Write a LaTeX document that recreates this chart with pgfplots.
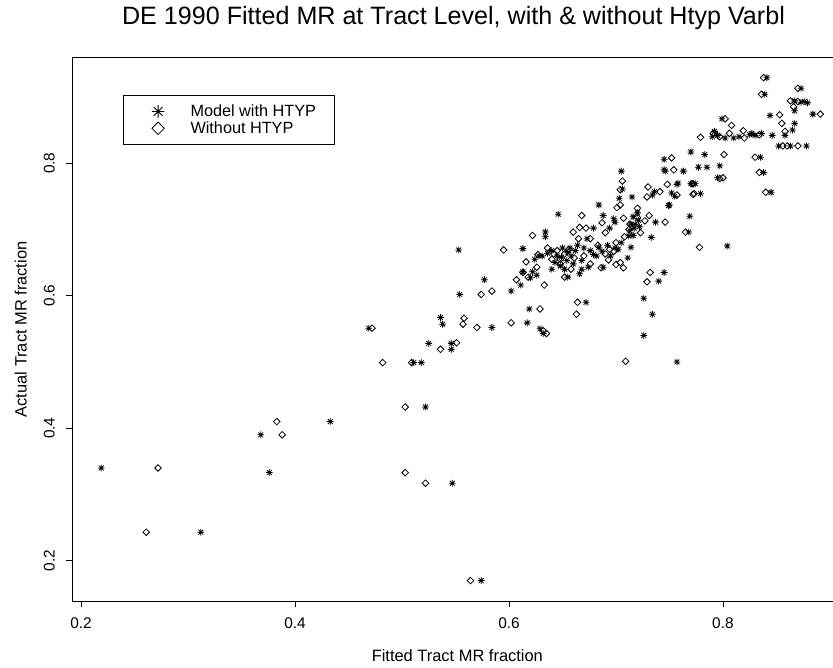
\documentclass[border=0pt]{standalone}
\usepackage{pgfplots}
\pgfplotsset{compat=1.18}
\usepackage{fontspec}
\setmainfont{Liberation Sans}

% S-Plus style eight-armed asterisk and square diamond
\pgfdeclareplotmark{aster8}{%
  \pgfpathmoveto{\pgfqpoint{0pt}{\pgfplotmarksize}}%
  \pgfpathlineto{\pgfqpoint{0pt}{-\pgfplotmarksize}}%
  \pgfpathmoveto{\pgfqpoint{\pgfplotmarksize}{0pt}}%
  \pgfpathlineto{\pgfqpoint{-\pgfplotmarksize}{0pt}}%
  \pgfpathmoveto{\pgfqpoint{0.707\pgfplotmarksize}{0.707\pgfplotmarksize}}%
  \pgfpathlineto{\pgfqpoint{-0.707\pgfplotmarksize}{-0.707\pgfplotmarksize}}%
  \pgfpathmoveto{\pgfqpoint{-0.707\pgfplotmarksize}{0.707\pgfplotmarksize}}%
  \pgfpathlineto{\pgfqpoint{0.707\pgfplotmarksize}{-0.707\pgfplotmarksize}}%
  \pgfusepathqstroke}
\pgfdeclareplotmark{sdiamond}{%
  \pgfpathmoveto{\pgfqpoint{0pt}{\pgfplotmarksize}}%
  \pgfpathlineto{\pgfqpoint{\pgfplotmarksize}{0pt}}%
  \pgfpathlineto{\pgfqpoint{0pt}{-\pgfplotmarksize}}%
  \pgfpathlineto{\pgfqpoint{-\pgfplotmarksize}{0pt}}%
  \pgfpathclose
  \pgfusepathqstroke}

\pgfplotstableread{
x y
0.219 0.340
0.312 0.243
0.368 0.390
0.376 0.333
0.433 0.410
0.522 0.432
0.547 0.317
0.574 0.170
0.469 0.551
0.511 0.499
0.518 0.499
0.525 0.528
0.546 0.528
0.546 0.519
0.536 0.567
0.538 0.557
0.553 0.669
0.554 0.602
0.577 0.624
0.584 0.552
0.602 0.607
0.617 0.559
0.619 0.580
0.611 0.616
0.613 0.671
0.629 0.550
0.632 0.543
0.628 0.660
0.634 0.696
0.634 0.689
0.672 0.590
0.646 0.723
0.726 0.596
0.734 0.572
0.726 0.540
0.757 0.500
0.740 0.622
0.745 0.635
0.804 0.675
0.768 0.696
0.769 0.720
0.733 0.688
0.714 0.673
0.711 0.657
0.705 0.788
0.746 0.788
0.763 0.788
0.706 0.761
0.703 0.747
0.715 0.749
0.736 0.757
0.757 0.768
0.770 0.769
0.755 0.750
0.684 0.737
0.750 0.737
0.688 0.721
0.698 0.716
0.699 0.711
0.720 0.725
0.716 0.719
0.721 0.714
0.714 0.708
0.717 0.702
0.713 0.698
0.716 0.691
0.737 0.711
0.679 0.702
0.694 0.702
0.673 0.686
0.657 0.672
0.670 0.672
0.684 0.673
0.687 0.667
0.699 0.672
0.702 0.670
0.649 0.658
0.654 0.653
0.668 0.653
0.682 0.660
0.668 0.640
0.674 0.643
0.688 0.643
0.655 0.628
0.666 0.633
0.631 0.660
0.624 0.655
0.613 0.636
0.622 0.636
0.626 0.631
0.620 0.627
0.640 0.668
0.645 0.660
0.650 0.672
0.655 0.665
0.643 0.650
0.648 0.645
0.636 0.664
0.658 0.660
0.662 0.668
0.676 0.668
0.692 0.676
0.705 0.680
0.712 0.690
0.718 0.708
0.722 0.704
0.660 0.648
0.664 0.676
0.679 0.662
0.695 0.660
0.652 0.640
0.640 0.640
0.745 0.806
0.745 0.790
0.752 0.755
0.758 0.770
0.749 0.736
0.734 0.752
0.790 0.840
0.795 0.842
0.802 0.838
0.810 0.838
0.815 0.840
0.825 0.843
0.830 0.842
0.836 0.845
0.846 0.842
0.858 0.842
0.865 0.850
0.867 0.860
0.799 0.867
0.792 0.848
0.770 0.817
0.783 0.813
0.777 0.794
0.785 0.794
0.797 0.796
0.835 0.809
0.838 0.786
0.845 0.756
0.779 0.754
0.774 0.769
0.795 0.778
0.841 0.929
0.839 0.904
0.873 0.913
0.867 0.894
0.873 0.892
0.876 0.893
0.879 0.891
0.867 0.879
0.884 0.874
0.844 0.872
0.852 0.826
0.863 0.826
0.878 0.826
0.827 0.845
}\withhtyp

\pgfplotstableread{
x y
0.272 0.340
0.261 0.243
0.383 0.410
0.388 0.390
0.503 0.432
0.503 0.333
0.522 0.317
0.564 0.170
0.472 0.551
0.482 0.499
0.509 0.499
0.536 0.519
0.551 0.529
0.557 0.557
0.558 0.566
0.574 0.602
0.584 0.607
0.570 0.552
0.595 0.669
0.602 0.559
0.629 0.580
0.607 0.624
0.616 0.651
0.632 0.547
0.635 0.543
0.622 0.691
0.633 0.616
0.663 0.572
0.664 0.590
0.709 0.501
0.706 0.773
0.704 0.760
0.730 0.764
0.741 0.757
0.748 0.768
0.772 0.769
0.772 0.753
0.729 0.749
0.704 0.737
0.701 0.733
0.668 0.721
0.707 0.717
0.713 0.708
0.723 0.695
0.727 0.713
0.731 0.721
0.746 0.711
0.765 0.696
0.660 0.696
0.666 0.703
0.672 0.702
0.687 0.710
0.665 0.686
0.676 0.686
0.708 0.689
0.778 0.673
0.694 0.670
0.698 0.667
0.661 0.657
0.648 0.648
0.693 0.654
0.700 0.647
0.686 0.642
0.707 0.642
0.652 0.628
0.732 0.635
0.729 0.621
0.704 0.650
0.627 0.662
0.613 0.635
0.618 0.628
0.636 0.672
0.645 0.668
0.652 0.663
0.640 0.655
0.642 0.663
0.656 0.670
0.670 0.660
0.683 0.676
0.690 0.695
0.712 0.700
0.720 0.718
0.700 0.680
0.658 0.640
0.676 0.648
0.720 0.732
0.690 0.663
0.626 0.643
0.648 0.655
0.838 0.929
0.836 0.904
0.870 0.913
0.863 0.894
0.870 0.893
0.891 0.874
0.853 0.873
0.855 0.860
0.858 0.848
0.856 0.826
0.860 0.826
0.870 0.826
0.779 0.839
0.802 0.867
0.808 0.857
0.819 0.849
0.820 0.838
0.791 0.845
0.797 0.840
0.806 0.845
0.834 0.843
0.801 0.813
0.830 0.809
0.834 0.786
0.800 0.778
0.797 0.777
0.771 0.769
0.773 0.754
0.840 0.756
0.752 0.808
0.754 0.790
0.757 0.752
0.866 0.885
}\withouthtyp

\begin{document}
\begin{tikzpicture}
\useasboundingbox (0,0) rectangle (833bp,668bp);
\begin{axis}[
    at={(72bp,67bp)}, anchor=south west,
    scale only axis,
    width=763bp, height=543.3bp,
    xmin=0.1916, xmax=0.9047,
    ymin=0.1392, ymax=0.9592,
    xtick={0.2,0.4,0.6,0.8},
    ytick={0.2,0.4,0.6,0.8},
    tick align=outside,
    xtick pos=left, ytick pos=left,
    major tick length=6bp,
    axis line style={line width=0.9bp},
    tick style={line width=0.9bp, black},
    /pgf/number format/assume math mode=true,
    /pgf/number format/fixed,
    /pgf/number format/precision=1,
    xticklabel style={font=\fontsize{15.5}{18}\selectfont, yshift=-7bp},
    yticklabel style={font=\fontsize{15.5}{18}\selectfont, rotate=90,
        anchor=south, inner ysep=11bp},
    title={DE 1990 Fitted MR at Tract Level, with \& without Htyp Varbl},
    title style={at={(0.5,1.0502)}, anchor=base, font=\fontsize{25.2}{29}\selectfont},
    xlabel={Fitted Tract MR fraction},
    xlabel style={at={(0.505,-0.111)}, anchor=base, font=\fontsize{16.5}{19}\selectfont},
    ylabel={Actual Tract MR fraction},
    ylabel style={at={(-0.0595,0.5)}, anchor=base, font=\fontsize{16.5}{19}\selectfont},
    legend style={
        at={(0.0672,0.9313)}, anchor=north west,
        draw=black, line width=0.9bp,
        inner xsep=16bp, inner ysep=7.5bp,
        column sep=22bp,
        font=\fontsize{16.3}{18}\selectfont,
        nodes={inner sep=2bp, text height=11.3bp, text depth=1.6bp},
        cells={anchor=west},
    },
    legend image code/.code={%
        \path (0bp,0bp) (26bp,0bp);
        \draw[#1] plot coordinates {(18bp,0bp)};
    },
    legend image post style={mark size=6.2bp},
]
\addplot[only marks, mark=aster8, mark size=3.4bp, line width=0.8bp, black]
    table[x=x, y=y] {\withhtyp};
\addlegendentry{Model with HTYP}
\addplot[only marks, mark=sdiamond, mark size=3.3bp, line width=0.8bp, black]
    table[x=x, y=y] {\withouthtyp};
\addlegendentry{Without HTYP}
\end{axis}
\end{tikzpicture}
\end{document}
